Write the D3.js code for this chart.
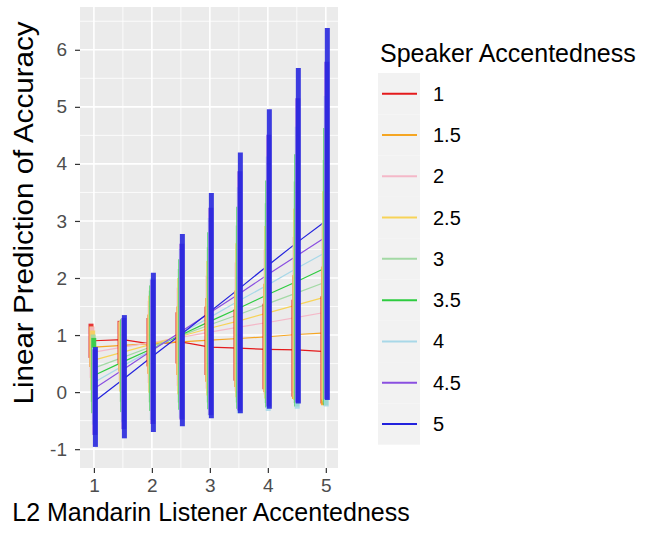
<!DOCTYPE html>
<html>
<head>
<meta charset="utf-8">
<script src="https://cdn.jsdelivr.net/npm/d3@7"></script>
<style>
  body { margin: 0; background: #fff; }
  text { font-family: "Liberation Sans", Arial, sans-serif; }
</style>
</head>
<body>
<svg id="chart" width="651" height="536"></svg>
<script>
// ---------------- DATA ----------------
const listenerX = [1, 1.5, 2, 2.5, 3, 3.5, 4, 4.5, 5];
const speakers = ["1", "1.5", "2", "2.5", "3", "3.5", "4", "4.5", "5"];
const xTickLabels = ["1", "2", "3", "4", "5"];
const yTickLabels = ["-1", "0", "1", "2", "3", "4", "5", "6"];

// predicted line per speaker accentedness
const pred1   = [0.90, 0.92, 0.84, 0.88, 0.79, 0.77, 0.75, 0.74, 0.71];
const pred1_5 = [0.79, 0.82, 0.85, 0.88, 0.91, 0.94, 0.97, 1.01, 1.04];
const pred2   = [0.70, 0.79, 0.87, 0.96, 1.05, 1.14, 1.22, 1.31, 1.40];
const pred2_5 = [0.56, 0.70, 0.84, 0.98, 1.12, 1.25, 1.39, 1.53, 1.67];
const pred3   = [0.42, 0.61, 0.80, 0.99, 1.18, 1.36, 1.55, 1.74, 1.93];
const pred3_5 = [0.29, 0.53, 0.76, 1.00, 1.24, 1.47, 1.71, 1.94, 2.18];
const pred4   = [0.17, 0.46, 0.74, 1.03, 1.31, 1.60, 1.88, 2.17, 2.45];
const pred4_5 = [0.06, 0.39, 0.73, 1.06, 1.39, 1.72, 2.06, 2.39, 2.72];
const pred5   = [-0.17, 0.22, 0.62, 1.01, 1.41, 1.81, 2.22, 2.62, 3.00];

// interval lower / upper bounds
const lo1   = [0.60, 0.50, 0.45, 0.50, 0.30, 0.20, 0.05, -0.08, -0.20];
const hi1   = [1.20, 1.25, 1.30, 1.40, 1.50, 1.45, 1.55, 1.62, 1.68];
const lo1_5 = [0.44, 0.36, 0.32, 0.30, 0.18, 0.09, 0.00, -0.12, -0.23];
const hi1_5 = [1.15, 1.23, 1.36, 1.50, 1.65, 1.78, 1.90, 2.05, 2.20];
const lo2   = [0.25, 0.20, 0.16, 0.11, 0.06, 0.01, -0.04, -0.08, -0.13];
const hi2   = [1.15, 1.24, 1.60, 1.83, 2.04, 2.27, 2.50, 2.72, 2.95];
const lo2_5 = [0.04, 0.01, -0.01, -0.04, -0.06, -0.09, -0.11, -0.14, -0.16];
const hi2_5 = [1.08, 1.25, 1.69, 2.00, 2.30, 2.61, 2.91, 3.22, 3.52];
const lo3   = [-0.17, -0.17, -0.18, -0.18, -0.18, -0.18, -0.19, -0.19, -0.19];
const hi3   = [1.01, 1.26, 1.78, 2.16, 2.54, 2.92, 3.31, 3.69, 4.07];
const lo3_5 = [-0.37, -0.35, -0.33, -0.31, -0.30, -0.29, -0.27, -0.25, -0.23];
const hi3_5 = [0.95, 1.28, 1.87, 2.33, 2.80, 3.25, 3.71, 4.17, 4.63];
const lo4   = [-0.57, -0.53, -0.49, -0.45, -0.41, -0.37, -0.33, -0.29, -0.25];
const hi4   = [0.78, 1.30, 1.99, 2.51, 3.05, 3.59, 4.13, 4.65, 5.19];
const lo4_5 = [-0.75, -0.65, -0.56, -0.48, -0.40, -0.32, -0.25, -0.18, -0.12];
const hi4_5 = [0.75, 1.30, 1.97, 2.60, 3.23, 3.87, 4.51, 5.15, 5.79];
const lo5   = [-0.96, -0.81, -0.70, -0.60, -0.46, -0.37, -0.29, -0.20, -0.14];
const hi5   = [0.79, 1.35, 2.09, 2.77, 3.49, 4.20, 4.96, 5.68, 6.38];

const predictions = [pred1, pred1_5, pred2, pred2_5, pred3, pred3_5, pred4, pred4_5, pred5];
const lowers = [lo1, lo1_5, lo2, lo2_5, lo3, lo3_5, lo4, lo4_5, lo5];
const uppers = [hi1, hi1_5, hi2, hi2_5, hi3, hi3_5, hi4, hi4_5, hi5];

// ---------------- STYLE ----------------
const colors = ["#e41a1c", "#f5a623", "#f4b8c8", "#f7d358", "#a3d9a5",
                "#2ecc40", "#a8d8e8", "#8a4fe0", "#2222dd"];
const panel = { left: 80, right: 338, top: 7, bottom: 468 };

const svg = d3.select("#chart");
svg.append("rect").attr("width", 651).attr("height", 536).attr("fill", "#fff");

const x = d3.scaleLinear().domain([0.76, 5.21]).range([panel.left, panel.right]);
const y = d3.scaleLinear().domain([-1.33, 6.75]).range([panel.bottom, panel.top]);

// panel
svg.append("rect")
  .attr("x", panel.left).attr("y", panel.top)
  .attr("width", panel.right - panel.left).attr("height", panel.bottom - panel.top)
  .attr("fill", "#ebebeb");

const xMajor = xTickLabels.map(Number);
const yMajor = yTickLabels.map(Number);
const xMinor = xMajor.slice(0, -1).map(v => v + 0.5);
const yMinor = [-1.5].concat(yMajor.map(v => v + 0.5)).filter(v => y(v) >= panel.top && y(v) <= panel.bottom);

const grid = svg.append("g");
grid.selectAll(".ymin").data(yMinor).join("line")
  .attr("x1", panel.left).attr("x2", panel.right)
  .attr("y1", d => y(d)).attr("y2", d => y(d))
  .attr("stroke", "#fff").attr("stroke-width", 0.8);
grid.selectAll(".xmin").data(xMinor).join("line")
  .attr("y1", panel.top).attr("y2", panel.bottom)
  .attr("x1", d => x(d)).attr("x2", d => x(d))
  .attr("stroke", "#fff").attr("stroke-width", 0.8);
grid.selectAll(".ymaj").data(yMajor).join("line")
  .attr("x1", panel.left).attr("x2", panel.right)
  .attr("y1", d => y(d)).attr("y2", d => y(d))
  .attr("stroke", "#fff").attr("stroke-width", 1.6);
grid.selectAll(".xmaj").data(xMajor).join("line")
  .attr("y1", panel.top).attr("y2", panel.bottom)
  .attr("x1", d => x(d)).attr("x2", d => x(d))
  .attr("stroke", "#fff").attr("stroke-width", 1.6);

// clip
svg.append("clipPath").attr("id", "clip").append("rect")
  .attr("x", panel.left).attr("y", panel.top)
  .attr("width", panel.right - panel.left).attr("height", panel.bottom - panel.top);
const plot = svg.append("g").attr("clip-path", "url(#clip)");

// lines
const line = d3.line().x((d, i) => x(listenerX[i])).y(d => y(d));
predictions.forEach((p, si) => {
  plot.append("path").datum(p)
    .attr("d", line).attr("fill", "none")
    .attr("stroke", colors[si]).attr("stroke-width", 1.2);
});

// interval bars (dodged)
const dodge = si => 1.5 + (si - 8) * 0.55;
lowers.forEach((lo, si) => {
  const hi = uppers[si];
  plot.append("g").selectAll("line").data(listenerX).join("line")
    .attr("x1", (d) => x(d) + dodge(si)).attr("x2", (d) => x(d) + dodge(si))
    .attr("y1", (d, j) => y(lo[j])).attr("y2", (d, j) => y(hi[j]))
    .attr("stroke", colors[si]).attr("stroke-width", 5)
    .attr("stroke-opacity", 0.88).attr("stroke-linecap", "butt");
});

// axes
const xAxis = svg.append("g").attr("transform", `translate(0,${panel.bottom})`)
  .call(d3.axisBottom(x).tickValues(xMajor).tickFormat((d, i) => xTickLabels[i]).tickSize(5).tickPadding(6));
const yAxis = svg.append("g").attr("transform", `translate(${panel.left},0)`)
  .call(d3.axisLeft(y).tickValues(yMajor).tickFormat((d, i) => yTickLabels[i]).tickSize(5).tickPadding(8));
[xAxis, yAxis].forEach(a => {
  a.select(".domain").remove();
  a.selectAll(".tick line").attr("stroke", "#333").attr("stroke-width", 1.2);
  a.selectAll(".tick text").attr("fill", "#4d4d4d").style("font-size", "19px")
    .style("font-family", "'Liberation Sans', Arial, sans-serif");
});

// axis titles
svg.append("text").attr("x", 211).attr("y", 521).attr("text-anchor", "middle")
  .style("font-size", "25px").attr("fill", "#000")
  .text("L2 Mandarin Listener Accentedness");
svg.append("text").attr("transform", "translate(33,213) rotate(-90)")
  .attr("text-anchor", "middle").style("font-size", "27px").attr("fill", "#000")
  .attr("textLength", 383).attr("lengthAdjust", "spacingAndGlyphs")
  .text("Linear Prediction of Accuracy");

// legend
const lg = svg.append("g");
lg.append("text").attr("x", 380).attr("y", 62).style("font-size", "25px").attr("fill", "#000")
  .text("Speaker Accentedness");
const keyH = 41.3, keyTop = 73;
speakers.forEach((s, i) => {
  const cy = keyTop + keyH * (i + 0.5);
  lg.append("rect").attr("x", 378).attr("y", keyTop + keyH * i)
    .attr("width", 42).attr("height", keyH).attr("fill", "#f2f2f2");
  lg.append("line").attr("x1", 382).attr("x2", 417).attr("y1", cy).attr("y2", cy)
    .attr("stroke", colors[i]).attr("stroke-width", 2);
  lg.append("text").attr("x", 433).attr("y", cy + 7).style("font-size", "20px").attr("fill", "#000")
    .text(s);
});
</script>
</body>
</html>
